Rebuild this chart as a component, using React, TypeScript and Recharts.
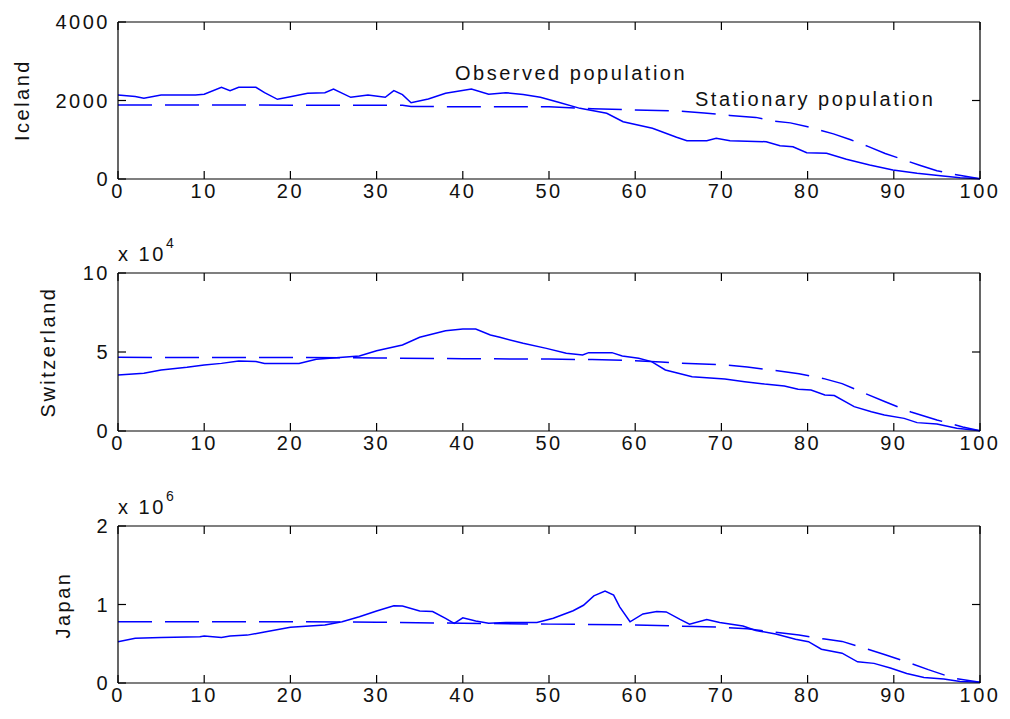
import { Line, LineChart, XAxis, YAxis } from "recharts";

// ages on the x axis
const ageTicks = [0, 10, 20, 30, 40, 50, 60, 70, 80, 90, 100];

// Iceland (persons)
const icelandObsAge = [0, 2, 3, 5, 9, 10, 12, 13, 14, 16, 17, 18.5, 20, 22, 24, 25, 27, 29, 31, 32, 33, 34, 36, 38, 41, 43, 45, 47, 49, 51, 53.6, 56.7, 58.6, 62, 64.8, 66, 68.3, 69.4, 71, 75.2, 76.8, 78.3, 79.9, 82.2, 84.5, 87.2, 89.9, 92.7, 95.7, 97.7, 100];
const icelandObs = [2140, 2100, 2055, 2140, 2140, 2160, 2336, 2250, 2336, 2336, 2200, 2030, 2097, 2183, 2200, 2293, 2081, 2140, 2081, 2250, 2150, 1944, 2038, 2183, 2293, 2157, 2200, 2150, 2081, 1960, 1800, 1673, 1460, 1291, 1062, 975, 975, 1036, 975, 950, 848, 823, 670, 654, 502, 357, 229, 144, 76, 34, 5];
const icelandStatAge = [0, 33, 34, 50, 55, 60, 65, 68, 71, 74, 76, 78, 80, 81.5, 83, 85, 87, 89, 91, 93, 95, 97, 100];
const icelandStat = [1885, 1880, 1845, 1840, 1790, 1760, 1730, 1680, 1620, 1570, 1480, 1430, 1330, 1240, 1150, 1000, 830, 650, 500, 350, 210, 120, 5];

// Switzerland (x 10^4 persons)
const swissObsAge = [0, 3, 5, 8, 10, 12, 14, 16, 17, 21, 23, 28, 30, 33, 35, 38, 40, 41.5, 43.2, 44.3, 47, 49.7, 52, 53.9, 54.6, 57.3, 58.5, 60.4, 61.9, 63.5, 65, 66.6, 70.4, 72.7, 75, 77.3, 78.9, 80.4, 82, 83.1, 85.4, 87.4, 88.9, 91.2, 92.7, 95, 97.3, 100];
const swissObs = [3.54, 3.65, 3.86, 4.03, 4.18, 4.28, 4.43, 4.4, 4.28, 4.28, 4.54, 4.75, 5.08, 5.44, 5.93, 6.35, 6.46, 6.46, 6.08, 5.93, 5.55, 5.23, 4.92, 4.81, 4.96, 4.96, 4.75, 4.6, 4.39, 3.86, 3.65, 3.44, 3.29, 3.12, 2.97, 2.85, 2.64, 2.59, 2.28, 2.24, 1.54, 1.22, 1.01, 0.8, 0.53, 0.44, 0.17, 0.02];
const swissStatAge = [0, 20, 30, 40, 50, 55, 60, 63, 67, 70, 73, 76, 79, 82, 84, 87, 89, 92, 95, 98, 100];
const swissStat = [4.66, 4.65, 4.62, 4.58, 4.55, 4.52, 4.45, 4.36, 4.25, 4.2, 4.05, 3.85, 3.62, 3.3, 3.0, 2.3, 1.85, 1.2, 0.7, 0.25, 0.02];

// Japan (x 10^6 persons)
const japanObsAge = [0, 2, 5, 9.5, 10, 12, 13, 15, 17, 20, 24, 26, 28, 30, 32, 33, 35, 36.5, 38, 39, 40, 41.5, 43, 45, 48.6, 50.5, 52.8, 54, 55.2, 56.5, 57.5, 58.2, 59.4, 60.9, 62.5, 63.6, 65.2, 66.3, 68.3, 69.8, 72.5, 74, 76.3, 78.6, 80.1, 81.6, 84, 85.8, 87.7, 89.6, 91.5, 93.5, 95.8, 97.7, 100];
const japanObs = [0.526, 0.57, 0.58, 0.59, 0.6, 0.58, 0.6, 0.61, 0.65, 0.71, 0.74, 0.78, 0.845, 0.917, 0.985, 0.98, 0.917, 0.91, 0.824, 0.76, 0.83, 0.79, 0.76, 0.77, 0.77, 0.824, 0.92, 0.99, 1.11, 1.17, 1.12, 0.97, 0.78, 0.88, 0.91, 0.905, 0.81, 0.75, 0.81, 0.77, 0.726, 0.67, 0.624, 0.557, 0.526, 0.43, 0.38, 0.27, 0.25, 0.19, 0.12, 0.07, 0.05, 0.02, 0.01];
const japanStatAge = [0, 20, 30, 40, 50, 60, 67, 70, 73, 76, 79, 82, 84, 87, 89, 92, 94, 97, 100];
const japanStat = [0.78, 0.78, 0.775, 0.76, 0.75, 0.74, 0.72, 0.71, 0.69, 0.65, 0.61, 0.56, 0.53, 0.43, 0.36, 0.25, 0.17, 0.06, 0.01];

const FONT = "'Liberation Sans', Arial, sans-serif";
const BLUE = "#0000ff";
const INK = "#111";
const TICK = 8;
const LEFT = 118;
const RIGHT = 980;

const toRows = (ages: number[], values: number[]) => ages.map((age, i) => ({ age, value: values[i] }));

type PanelProps = {
  top: number;
  plotTop: number;
  plotHeight: number;
  yMax: number;
  yTicks: number[];
  observed: { age: number; value: number }[];
  stationary: { age: number; value: number }[];
};

const labelStyle = { fontSize: 20, fill: INK, fontFamily: FONT, letterSpacing: 2.5 };

function Panel({ top, plotTop, plotHeight, yMax, yTicks, observed, stationary }: PanelProps) {
  const h = 240;
  const bottom = plotTop + plotHeight;

  // MATLAB style: ticks point into the box
  const bottomTick = (p: any) => (
    <g>
      <line x1={p.x} x2={p.x} y1={bottom} y2={bottom - TICK} stroke="#000" strokeWidth={1.2} />
      <text x={p.x} y={bottom + 19} textAnchor="middle" {...labelStyle}>
        {p.payload.value}
      </text>
    </g>
  );
  const topTick = (p: any) => (
    <line x1={p.x} x2={p.x} y1={plotTop} y2={plotTop + TICK} stroke="#000" strokeWidth={1.2} />
  );
  const leftTick = (p: any) => (
    <g>
      <line x1={LEFT} x2={LEFT + TICK} y1={p.y} y2={p.y} stroke="#000" strokeWidth={1.2} />
      <text x={LEFT - 8} y={p.y + 7} textAnchor="end" {...labelStyle}>
        {p.payload.value}
      </text>
    </g>
  );
  const rightTick = (p: any) => (
    <line x1={RIGHT} x2={RIGHT - TICK} y1={p.y} y2={p.y} stroke="#000" strokeWidth={1.2} />
  );

  return (
    <div style={{ position: "absolute", left: 0, top, width: 1010, height: h }}>
      <LineChart
        width={1010}
        height={h}
        margin={{ top: plotTop - 1, right: 1010 - RIGHT - 1, left: 0, bottom: h - bottom - 30 }}
      >
        <XAxis
          xAxisId="b"
          dataKey="age"
          type="number"
          domain={[0, 100]}
          ticks={ageTicks}
          height={30}
          tickLine={false}
          stroke="#000"
          strokeWidth={1.2}
          tick={bottomTick}
        />
        <XAxis
          xAxisId="t"
          orientation="top"
          dataKey="age"
          type="number"
          domain={[0, 100]}
          ticks={ageTicks}
          height={1}
          tickLine={false}
          tick={topTick}
          stroke="#000"
          strokeWidth={1.2}
        />
        <YAxis
          yAxisId="l"
          type="number"
          domain={[0, yMax]}
          ticks={yTicks}
          width={LEFT}
          tickLine={false}
          stroke="#000"
          strokeWidth={1.2}
          tick={leftTick}
        />
        <YAxis
          yAxisId="r"
          orientation="right"
          type="number"
          domain={[0, yMax]}
          ticks={[yTicks[1]]}
          width={1}
          tickLine={false}
          tick={rightTick}
          stroke="#000"
          strokeWidth={1.2}
        />
        {/* invisible series so the top and right box axes get drawn */}
        <Line
          xAxisId="t"
          yAxisId="r"
          data={observed}
          dataKey="value"
          stroke="none"
          dot={false}
          activeDot={false}
          isAnimationActive={false}
        />
        <Line
          xAxisId="b"
          yAxisId="l"
          data={observed}
          dataKey="value"
          type="linear"
          stroke={BLUE}
          strokeWidth={1.5}
          dot={false}
          isAnimationActive={false}
        />
        <Line
          xAxisId="b"
          yAxisId="l"
          data={stationary}
          dataKey="value"
          type="linear"
          stroke={BLUE}
          strokeWidth={1.5}
          strokeDasharray="34 13"
          dot={false}
          isAnimationActive={false}
        />
      </LineChart>
    </div>
  );
}

const textBase = {
  position: "absolute" as const,
  fontFamily: FONT,
  fontSize: 20,
  letterSpacing: 2.5,
  color: INK,
  whiteSpace: "nowrap" as const,
  lineHeight: 1,
};

function VLabel({ text, cx, cy }: { text: string; cx: number; cy: number }) {
  return (
    <div style={{ ...textBase, left: cx, top: cy, transform: "translate(-50%, -50%) rotate(-90deg)" }}>
      {text}
    </div>
  );
}

function Exponent({ power, top }: { power: string; top: number }) {
  return (
    <>
      <div style={{ ...textBase, left: 118, top: top + 8 }}>x 10</div>
      <div style={{ ...textBase, fontSize: 14, letterSpacing: 1, left: 166, top }}>{power}</div>
    </>
  );
}

export default function App() {
  return (
    <div style={{ position: "absolute", left: 0, top: 0, width: 1010, height: 719, background: "#fff", overflow: "hidden" }}>
      <Panel
        top={0}
        plotTop={22}
        plotHeight={157}
        yMax={4000}
        yTicks={[0, 2000, 4000]}
        observed={toRows(icelandObsAge, icelandObs)}
        stationary={toRows(icelandStatAge, icelandStat)}
      />
      <Panel
        top={240}
        plotTop={33}
        plotHeight={158}
        yMax={10}
        yTicks={[0, 5, 10]}
        observed={toRows(swissObsAge, swissObs)}
        stationary={toRows(swissStatAge, swissStat)}
      />
      <Panel
        top={479}
        plotTop={47}
        plotHeight={157}
        yMax={2}
        yTicks={[0, 1, 2]}
        observed={toRows(japanObsAge, japanObs)}
        stationary={toRows(japanStatAge, japanStat)}
      />
      <VLabel text="Iceland" cx={22} cy={100} />
      <VLabel text="Switzerland" cx={48} cy={352} />
      <VLabel text="Japan" cx={63} cy={605} />
      <Exponent power="4" top={236} />
      <Exponent power="6" top={489} />
      <div style={{ ...textBase, left: 455, top: 63 }}>Observed population</div>
      <div style={{ ...textBase, left: 695, top: 89 }}>Stationary population</div>
    </div>
  );
}
